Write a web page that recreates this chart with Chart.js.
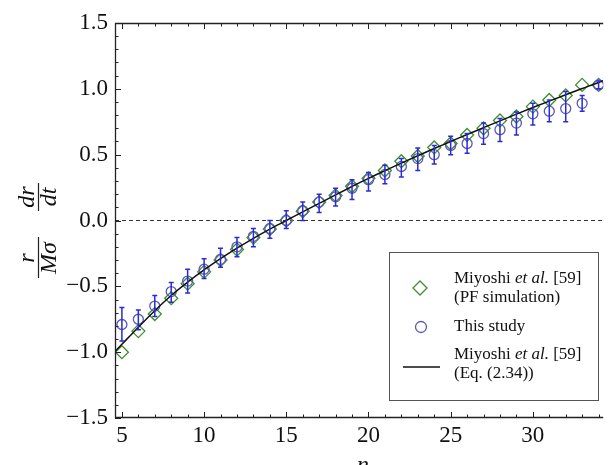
<!DOCTYPE html>
<html>
<head>
<meta charset="utf-8">
<script src="https://cdn.jsdelivr.net/npm/chart.js@4.4.0/dist/chart.umd.min.js"></script>
<style>
  html, body { margin: 0; padding: 0; background: #fff; }
  #wrap { width: 611px; height: 465px; }
</style>
</head>
<body>
<div id="wrap"><canvas id="growthChart" width="611" height="465"></canvas></div>
<script>
// Grain growth rate vs number of faces n

const nValues = [5, 6, 7, 8, 9, 10, 11, 12, 13, 14, 15, 16, 17, 18, 19, 20,
                 21, 22, 23, 24, 25, 26, 27, 28, 29, 30, 31, 32, 33, 34];

// Miyoshi et al. [59] (PF simulation)
const pfValues = [-1.00, -0.84, -0.71, -0.59, -0.48, -0.39, -0.30, -0.22, -0.13, -0.065,
                  0.00, 0.07, 0.14, 0.19, 0.26, 0.32, 0.38, 0.45, 0.49, 0.555,
                  0.585, 0.65, 0.70, 0.76, 0.79, 0.865, 0.915, 0.95, 1.03, 1.03];

// This study (mean with error bar range)
const studyValues = [-0.79, -0.75, -0.65, -0.54, -0.46, -0.37, -0.295, -0.20, -0.12, -0.06,
                     0.00, 0.075, 0.14, 0.18, 0.245, 0.31, 0.35, 0.41, 0.47, 0.50,
                     0.57, 0.585, 0.66, 0.69, 0.74, 0.81, 0.83, 0.85, 0.89, 1.03];
const studyLow = [-0.915, -0.83, -0.73, -0.62, -0.55, -0.44, -0.355, -0.275, -0.20, -0.135,
                  -0.06, 0.00, 0.06, 0.11, 0.16, 0.225, 0.28, 0.33, 0.38, 0.43,
                  0.50, 0.51, 0.58, 0.60, 0.65, 0.725, 0.75, 0.75, 0.83, 1.00];
const studyHigh = [-0.66, -0.68, -0.57, -0.47, -0.37, -0.29, -0.21, -0.13, -0.06, 0.00,
                   0.075, 0.14, 0.20, 0.245, 0.31, 0.365, 0.42, 0.47, 0.55, 0.57,
                   0.64, 0.66, 0.74, 0.775, 0.825, 0.89, 0.915, 0.98, 0.95, 1.06];

// Miyoshi et al. [59] Eq. (2.34)
const eqN = [4.58, 5, 6, 7, 8, 9, 10, 11, 12, 13, 14, 15, 16, 17, 18, 19, 20,
             21, 22, 23, 24, 25, 26, 27, 28, 29, 30, 31, 32, 33, 34, 34.28];
const eqValues = [-0.995, -0.94, -0.81, -0.685, -0.57, -0.468, -0.375, -0.29, -0.21, -0.135, -0.065,
                  0.0, 0.066, 0.13, 0.195, 0.258, 0.32, 0.378, 0.436, 0.492, 0.547,
                  0.60, 0.653, 0.705, 0.757, 0.808, 0.858, 0.907, 0.955, 1.002, 1.048, 1.062];

const xTicks = [5, 10, 15, 20, 25, 30];
const yTicks = [-1.5, -1.0, -0.5, 0.0, 0.5, 1.0, 1.5];
const xRange = [4.58, 34.28];
const yRange = [-1.5, 1.5];

const SERIF = '"Liberation Serif", "DejaVu Serif", serif';
const GREEN = '#3f8f2f';
const CIRCLE = '#5a57bd';
const ERRBAR = '#2b2bd6';

function toPoints(xs, ys) {
    return xs.map((x, i) => ({ x: x, y: ys[i] }));
}

// error bars for "This study"
const errorBarPlugin = {
    id: 'errorBars',
    afterDatasetsDraw(chart) {
        const xs = chart.scales.x, ys = chart.scales.y;
        const ctx = chart.ctx;
        ctx.save();
        ctx.strokeStyle = ERRBAR;
        ctx.lineWidth = 1.5;
        nValues.forEach((n, i) => {
            const px = xs.getPixelForValue(n);
            const lo = ys.getPixelForValue(studyLow[i]);
            const hi = ys.getPixelForValue(studyHigh[i]);
            ctx.beginPath();
            ctx.moveTo(px, lo); ctx.lineTo(px, hi);
            ctx.moveTo(px - 2.5, lo); ctx.lineTo(px + 2.5, lo);
            ctx.moveTo(px - 2.5, hi); ctx.lineTo(px + 2.5, hi);
            ctx.stroke();
        });
        ctx.restore();
    }
};

// frame, inward ticks, axis titles, legend
const decorPlugin = {
    id: 'decor',
    afterDraw(chart) {
        const ctx = chart.ctx;
        const area = chart.chartArea;
        const xs = chart.scales.x, ys = chart.scales.y;
        ctx.save();
        ctx.strokeStyle = '#222';
        ctx.lineWidth = 1.3;

        // frame (right side is off the image)
        ctx.beginPath();
        ctx.moveTo(area.right, area.top + 0.5);
        ctx.lineTo(area.left + 0.5, area.top + 0.5);
        ctx.lineTo(area.left + 0.5, area.bottom - 0.5);
        ctx.lineTo(area.right, area.bottom - 0.5);
        ctx.stroke();

        // x ticks, top and bottom
        ctx.lineWidth = 1;
        for (let v = 5; v <= 34; v++) {
            const px = Math.round(xs.getPixelForValue(v)) + 0.5;
            const len = v % 5 === 0 ? 6 : 3.5;
            ctx.beginPath();
            ctx.moveTo(px, area.bottom); ctx.lineTo(px, area.bottom - len);
            ctx.moveTo(px, area.top); ctx.lineTo(px, area.top + len);
            ctx.stroke();
        }
        // y ticks, left
        for (let k = -15; k <= 15; k++) {
            const py = Math.round(ys.getPixelForValue(k / 10)) + 0.5;
            const len = k % 5 === 0 ? 6 : 3.5;
            ctx.beginPath();
            ctx.moveTo(area.left, py); ctx.lineTo(area.left + len, py);
            ctx.stroke();
        }

        // x title
        ctx.fillStyle = '#111';
        ctx.font = 'italic 24px ' + SERIF;
        ctx.textAlign = 'center';
        ctx.textBaseline = 'alphabetic';
        ctx.fillText('n', 363, 472);

        // y title: r/(Mσ) · dr/dt, rotated
        ctx.save();
        ctx.translate(38, 228);
        ctx.rotate(-Math.PI / 2);
        ctx.font = 'italic 24px ' + SERIF;
        ctx.textAlign = 'center';
        ctx.fillText('r', -30, -4);
        ctx.fillText('M\u03c3', -30, 18);
        ctx.fillText('dr', 31, -4);
        ctx.fillText('dt', 31, 18);
        ctx.lineWidth = 1.2;
        ctx.beginPath();
        ctx.moveTo(-50, 0.5); ctx.lineTo(-9, 0.5);
        ctx.moveTo(17, 0.5); ctx.lineTo(45, 0.5);
        ctx.stroke();
        ctx.restore();

        // legend
        ctx.fillStyle = '#fff';
        ctx.fillRect(389.5, 252.5, 209, 148);
        ctx.strokeStyle = '#555';
        ctx.lineWidth = 1;
        ctx.strokeRect(389.5, 252.5, 209, 148);

        ctx.strokeStyle = GREEN;
        ctx.lineWidth = 1.3;
        ctx.beginPath();
        ctx.moveTo(420, 281); ctx.lineTo(427, 288); ctx.lineTo(420, 295); ctx.lineTo(413, 288);
        ctx.closePath();
        ctx.stroke();

        ctx.strokeStyle = CIRCLE;
        ctx.beginPath();
        ctx.arc(421, 327, 5.5, 0, Math.PI * 2);
        ctx.stroke();

        ctx.strokeStyle = '#111';
        ctx.lineWidth = 1.5;
        ctx.beginPath();
        ctx.moveTo(403, 367); ctx.lineTo(440, 367);
        ctx.stroke();

        ctx.fillStyle = '#111';
        ctx.textAlign = 'left';
        const miyoshi = (x, y) => {
            ctx.font = '17px ' + SERIF;
            ctx.fillText('Miyoshi ', x, y);
            let w = ctx.measureText('Miyoshi ').width;
            ctx.font = 'italic 17px ' + SERIF;
            ctx.fillText('et al.', x + w, y);
            w += ctx.measureText('et al.').width;
            ctx.font = '17px ' + SERIF;
            ctx.fillText(' [59]', x + w, y);
        };
        miyoshi(454, 283);
        ctx.font = '17px ' + SERIF;
        ctx.fillText('(PF simulation)', 454, 302);
        ctx.fillText('This study', 454, 331);
        miyoshi(454, 359);
        ctx.font = '17px ' + SERIF;
        ctx.fillText('(Eq. (2.34))', 454, 378);

        ctx.restore();
    }
};

new Chart(document.getElementById('growthChart'), {
    type: 'scatter',
    data: {
        datasets: [
            {
                label: 'zero',
                type: 'line',
                data: toPoints(xRange, [0, 0]),
                borderColor: '#333',
                borderWidth: 1,
                borderDash: [4, 3],
                pointRadius: 0,
                order: 4
            },
            {
                label: 'Miyoshi et al. [59] (Eq. (2.34))',
                type: 'line',
                data: toPoints(eqN, eqValues),
                borderColor: '#111',
                borderWidth: 1.5,
                pointRadius: 0,
                cubicInterpolationMode: 'monotone',
                order: 0
            },
            {
                label: 'Miyoshi et al. [59] (PF simulation)',
                data: toPoints(nValues, pfValues),
                pointStyle: 'rectRot',
                pointRadius: 6.5,
                borderColor: GREEN,
                backgroundColor: 'rgba(0,0,0,0)',
                borderWidth: 1.3,
                order: 2
            },
            {
                label: 'This study',
                data: toPoints(nValues, studyValues),
                pointStyle: 'circle',
                pointRadius: 5,
                borderColor: CIRCLE,
                backgroundColor: 'rgba(0,0,0,0)',
                borderWidth: 1.3,
                order: 1
            }
        ]
    },
    options: {
        responsive: false,
        animation: false,
        layout: { padding: { top: 23, right: 0, bottom: 0, left: 0 } },
        plugins: {
            legend: { display: false },
            tooltip: { enabled: false }
        },
        scales: {
            x: {
                type: 'linear',
                min: xRange[0],
                max: xRange[1],
                afterBuildTicks: scale => { scale.ticks = xTicks.map(v => ({ value: v })); },
                afterFit: scale => { scale.height = 47; },
                grid: { display: false, drawTicks: false },
                border: { display: false },
                ticks: {
                    padding: 4,
                    color: '#111',
                    font: { family: SERIF, size: 23 },
                    callback: v => String(v)
                }
            },
            y: {
                type: 'linear',
                min: yRange[0],
                max: yRange[1],
                afterBuildTicks: scale => { scale.ticks = yTicks.map(v => ({ value: v })); },
                afterFit: scale => { scale.width = 115; },
                grid: { display: false, drawTicks: false },
                border: { display: false },
                ticks: {
                    padding: 7,
                    color: '#111',
                    font: { family: SERIF, size: 23 },
                    callback: v => Number(v).toFixed(1).replace('-', '\u2212')
                }
            }
        }
    },
    plugins: [errorBarPlugin, decorPlugin]
});
</script>
</body>
</html>
